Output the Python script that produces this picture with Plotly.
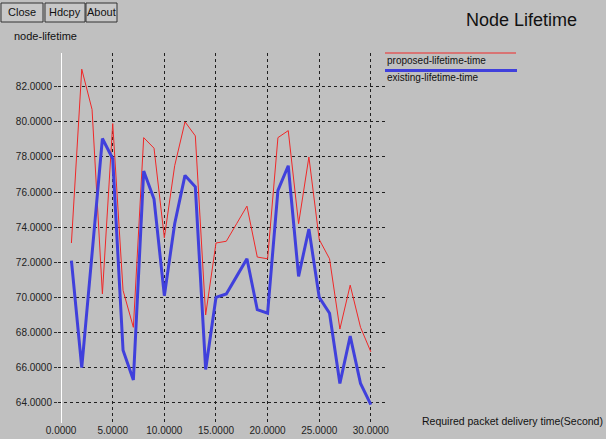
import plotly.graph_objects as go

x_time = list(range(1, 31))
proposed = [73.1, 83.0, 80.7, 70.2, 79.9, 70.4, 68.3, 79.1, 78.5, 73.4,
            77.5, 80.0, 79.2, 69.0, 73.1, 73.2, 74.2, 75.2, 72.3, 72.2,
            79.1, 79.5, 74.2, 78.0, 73.3, 72.2, 68.2, 70.7, 68.3, 66.9]
existing = [72.1, 66.0, 72.5, 79.05, 77.9, 67.0, 65.3, 77.2, 75.6, 70.1,
            74.2, 76.95, 76.3, 65.9, 70.0, 70.2, 71.2, 72.2, 69.3, 69.1,
            76.1, 77.5, 71.2, 73.9, 70.0, 69.1, 65.1, 67.8, 65.1, 63.9]
x_ticks = [0, 5, 10, 15, 20, 25, 30]
y_ticks = [64, 66, 68, 70, 72, 74, 76, 78, 80, 82]

BG = "#c0c0c0"
RED = "#f02828"
BLUE = "#4040dc"
FONT = "Liberation Sans"

fig = go.Figure()
fig.add_trace(go.Scatter(x=x_time, y=proposed, mode="lines",
                         line=dict(color=RED, width=1), name="proposed-lifetime-time"))
fig.add_trace(go.Scatter(x=x_time, y=existing, mode="lines",
                         line=dict(color=BLUE, width=3), name="existing-lifetime-time"))

fig.update_layout(
    width=606, height=439,
    paper_bgcolor=BG, plot_bgcolor=BG,
    margin=dict(l=58, r=221, t=53, b=16),
    showlegend=False,
    font=dict(family=FONT, size=10, color="#222"),
    xaxis=dict(range=[-0.3, 31.37], tickvals=x_ticks, automargin=False,
               ticktext=[f"{v:.4f}" for v in x_ticks],
               showgrid=True, gridcolor="#202020", griddash="dot", gridwidth=1,
               zeroline=True, zerolinecolor="#ffffff", zerolinewidth=1,
               showline=False, ticks="", tickfont=dict(size=10, color="#222")),
    yaxis=dict(range=[62.85, 83.92], tickvals=y_ticks, automargin=False,
               ticktext=[f"{v:.4f}" for v in y_ticks],
               showgrid=True, gridcolor="#202020", griddash="dot", gridwidth=1,
               zeroline=False, showline=False, ticks="outside", ticklen=3,
               tickcolor="#333", tickfont=dict(size=10, color="#222")),
)

shapes = []
annotations = []


def px(xp):
    return (xp - 58) / 327


def py(yp):
    return (423 - yp) / 370


# window buttons
for label, x0, x1 in [("Close", 1, 43), ("Hdcpy", 45, 85), ("About", 86, 117)]:
    shapes.append(dict(type="rect", xref="paper", yref="paper",
                       x0=px(x0), x1=px(x1), y0=py(22), y1=py(3),
                       line=dict(color="#333", width=1), fillcolor="#c8c8c8", layer="above"))
    annotations.append(dict(text=label, xref="paper", yref="paper",
                            x=px((x0 + x1) / 2), y=py(12.5),
                            showarrow=False, xanchor="center", yanchor="middle",
                            font=dict(size=11, color="#111")))

annotations.append(dict(text="node-lifetime", xref="paper", yref="paper",
                        x=px(12), y=py(36), showarrow=False, xanchor="left",
                        yanchor="middle", font=dict(size=11, color="#111")))
annotations.append(dict(text="Node Lifetime", xref="paper", yref="paper",
                        x=px(521), y=py(20), showarrow=False, xanchor="center",
                        yanchor="middle", font=dict(size=18, color="#111")))
annotations.append(dict(text="Required packet delivery time(Second)", xref="paper", yref="paper",
                        x=px(605), y=py(421), showarrow=False, xanchor="right",
                        yanchor="middle", font=dict(size=10.5, color="#111")))
# legend
shapes.append(dict(type="line", xref="paper", yref="paper", x0=px(385), x1=px(516),
                   y0=py(53), y1=py(53), line=dict(color=RED, width=1)))
shapes.append(dict(type="line", xref="paper", yref="paper", x0=px(385), x1=px(517),
                   y0=py(70.5), y1=py(70.5), line=dict(color=BLUE, width=3)))
annotations.append(dict(text="proposed-lifetime-time", xref="paper", yref="paper",
                        x=px(385), y=py(60), showarrow=False, xanchor="left",
                        yanchor="middle", font=dict(size=10, color="#111")))
annotations.append(dict(text="existing-lifetime-time", xref="paper", yref="paper",
                        x=px(385), y=py(77.5), showarrow=False, xanchor="left",
                        yanchor="middle", font=dict(size=10, color="#111")))

fig.update_layout(shapes=shapes, annotations=annotations)
fig.write_html("out.html", config={"displayModeBar": False},
               post_script="document.body.style.margin='0';document.body.style.padding='0';")
